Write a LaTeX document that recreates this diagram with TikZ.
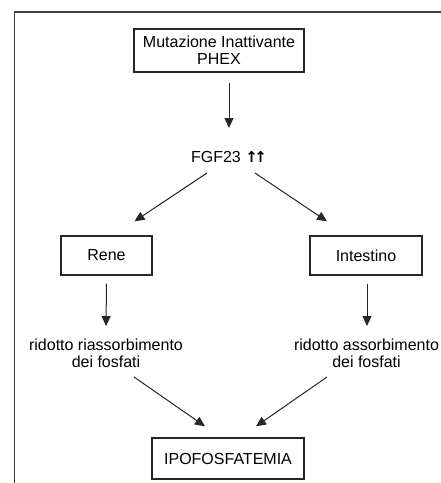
\documentclass[tikz,border=0pt]{standalone}
\usepackage{fontspec}
\setmainfont{Liberation Sans}
\newfontfamily\arrowfont{DejaVu Sans}
\usetikzlibrary{calc,arrows.meta}
\begin{document}
\begin{tikzpicture}[x=1pt,y=1pt,
  every node/.style={font=\fontsize{16}{17}\selectfont, inner sep=0pt, align=center},
  box/.style={draw=black!85, line width=1.4pt},
  arr/.style={draw=black!85, line width=1pt, -{Triangle[length=10pt,width=9pt]}},
  frame/.style={draw=black!75, line width=1.6pt}]
\useasboundingbox (0,0) rectangle (441,-483);
\draw[frame] (14.5,-483) -- (14.5,-12) -- (441,-12);
\node[box, minimum width=170, minimum height=43] (top) at (219,-50.5) {Mutazione Inattivante\\PHEX};
\node (fgf) at (229,-157) {FGF23 {\arrowfont\fontsize{15}{15}\bfseries ↑\kern-3.5pt↑}};
\node[box, minimum width=91, minimum height=39] (rene) at (106.5,-255.5) {Rene};
\node[box, minimum width=112, minimum height=39] (int) at (366,-255.5) {Intestino};
\node (rr) at (106,-353.5) {ridotto riassorbimento\\dei fosfati};
\node (ra) at (366.5,-353.5) {ridotto assorbimento\\dei fosfati};
\node[box, minimum width=152, minimum height=41] (ipo) at (228,-458.5) {IPOFOSFATEMIA};
\draw[arr] ($(top.south -| fgf)+(0,-10)$) -- ($(fgf)+(0,29)$);
\draw[arr] ($(fgf)+(-22,-16)$) -- ($(rene.north)+(28,14)$);
\draw[arr] ($(fgf)+(26,-16)$) -- ($(int.north)+(-39,14)$);
\draw[arr] ($(rene.south)+(0,-8)$) -- ($(rr)+(0,27.5)$);
\draw[arr] ($(int.south)+(1,-8)$) -- ($(ra)+(0.5,27.5)$);
\draw[arr] ($(rr)+(28,-23.5)$) -- ($(ipo.north)+(-23,11)$);
\draw[arr] ($(ra)+(-39.5,-23.5)$) -- ($(ipo.north)+(28,11)$);
\end{tikzpicture}
\end{document}
